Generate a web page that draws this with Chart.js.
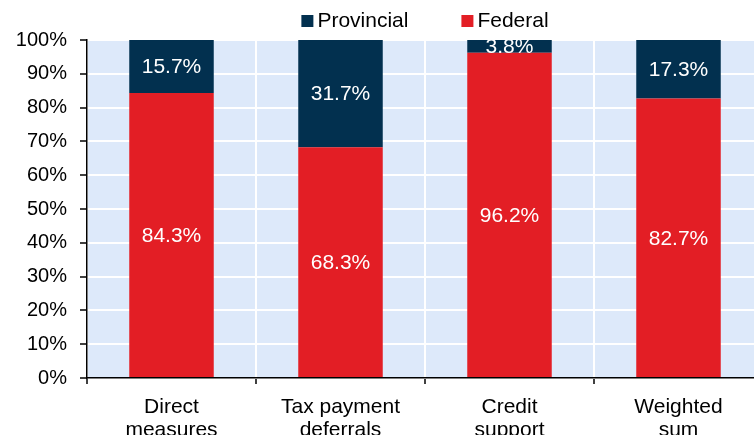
<!DOCTYPE html>
<html>
<head>
<meta charset="utf-8">
<script src="https://cdn.jsdelivr.net/npm/chart.js@4/dist/chart.umd.min.js"></script>
<style>
html,body{margin:0;padding:0;background:#fff;overflow:hidden;width:754px;height:435px;}
#wrap{width:754px;height:435px;overflow:hidden;position:relative;}
canvas{display:block;}
</style>
</head>
<body>
<div id="wrap"><canvas id="c" width="852" height="435"></canvas></div>
<script>
const categories = [['Direct','measures'], ['Tax payment','deferrals'], ['Credit','support'], ['Weighted','sum']];
const federal = [84.3, 68.3, 96.2, 82.7];
const provincial = [15.7, 31.7, 3.8, 17.3];
const yTicks = [0,10,20,30,40,50,60,70,80,90,100];

const FONT = "'Liberation Sans', Arial, sans-serif";
const NAVY = '#02304F';
const RED = '#E31E25';
const BG = '#DDE9FA';

const bgPlugin = {
  id: 'bg',
  beforeDraw(chart) {
    const a = chart.chartArea, ctx = chart.ctx;
    ctx.save();
    ctx.fillStyle = BG;
    ctx.fillRect(a.left, a.top, a.right - a.left, a.bottom - a.top);
    ctx.restore();
  }
};

const labelPlugin = {
  id: 'labels',
  afterDatasetsDraw(chart) {
    const ctx = chart.ctx;
    ctx.save();
    ctx.fillStyle = '#fff';
    ctx.font = '21px ' + FONT;
    ctx.textAlign = 'center';
    ctx.textBaseline = 'middle';
    chart.data.datasets.forEach((ds, i) => {
      chart.getDatasetMeta(i).data.forEach((bar, j) => {
        const yc = (bar.y + bar.base) / 2;
        ctx.fillText(ds.data[j].toFixed(1) + '%', bar.x, yc + 1);
      });
    });
    ctx.restore();
  }
};

const legendPlugin = {
  id: 'customLegend',
  afterDraw(chart) {
    const ctx = chart.ctx, a = chart.chartArea;
    ctx.save();
    ctx.font = '21px ' + FONT;
    ctx.textBaseline = 'middle';
    ctx.textAlign = 'left';
    const items = chart.data.datasets.slice().reverse();
    const box = 12, gap = 4, between = 53;
    const widths = items.map(d => box + gap + ctx.measureText(d.label).width);
    const total = widths.reduce((s, w) => s + w, 0) + between * (items.length - 1);
    let x = (a.left + a.right) / 2 - total / 2;
    const yc = 21;
    items.forEach((d, i) => {
      ctx.fillStyle = d.backgroundColor;
      ctx.fillRect(x, yc - box / 2, box, box);
      ctx.fillStyle = '#000';
      ctx.fillText(d.label, x + box + gap, yc);
      x += widths[i] + between;
    });
    ctx.restore();
  }
};

new Chart(document.getElementById('c'), {
  type: 'bar',
  data: {
    labels: categories,
    datasets: [
      { label: 'Federal', data: federal, backgroundColor: RED, categoryPercentage: 1.0, barPercentage: 0.5 },
      { label: 'Provincial', data: provincial, backgroundColor: NAVY, categoryPercentage: 1.0, barPercentage: 0.5 }
    ]
  },
  options: {
    responsive: false,
    animation: false,
    devicePixelRatio: 1,
    layout: { padding: { top: 40, right: 89, bottom: 0, left: 0 } },
    plugins: { legend: { display: false }, tooltip: { enabled: false } },
    scales: {
      x: {
        stacked: true,
        offset: true,
        grid: { offset: true, color: '#fff', lineWidth: 2, tickColor: '#000', tickLength: 6, tickWidth: 1.5 },
        border: { color: '#000', width: 1.5 },
        ticks: { color: '#000', font: { family: FONT, size: 21, lineHeight: 1.08 }, padding: 12, maxRotation: 0, autoSkip: false },
        afterFit(s) { s.height = 57; }
      },
      y: {
        stacked: true,
        min: 0, max: 100,
        afterBuildTicks(s) { s.ticks = yTicks.map(v => ({ value: v })); },
        grid: { color: '#fff', lineWidth: 2, tickColor: '#000', tickLength: 7, tickWidth: 1.5 },
        border: { color: '#000', width: 1.5 },
        ticks: { color: '#000', font: { family: FONT, size: 20 }, padding: 13, callback: v => v + '%' },
        afterFit(s) { s.width = 87; }
      }
    }
  },
  plugins: [bgPlugin, labelPlugin, legendPlugin]
});
</script>
</body>
</html>
